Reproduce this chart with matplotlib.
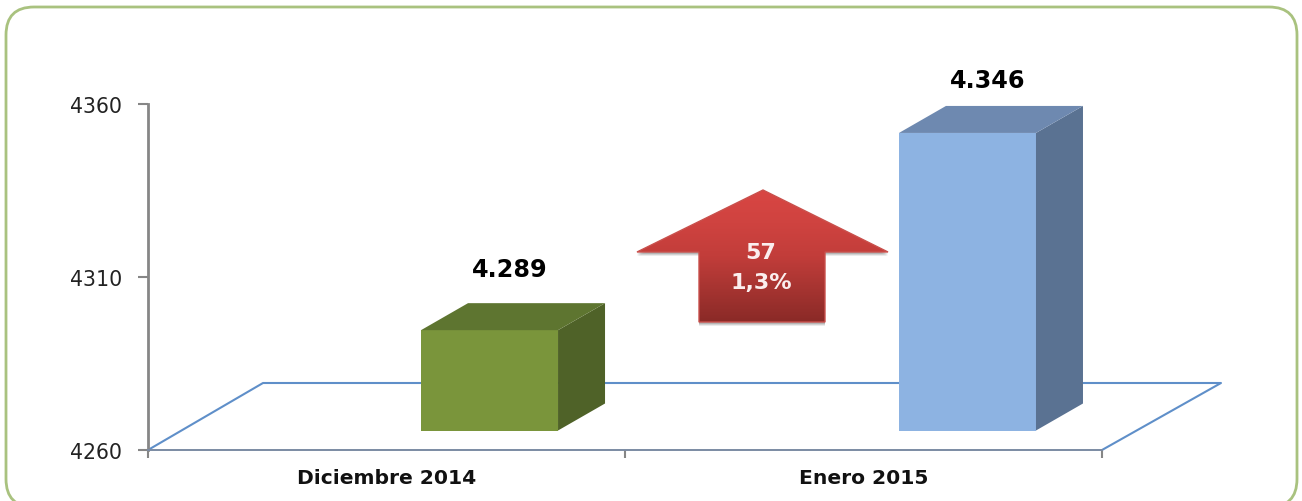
import numpy as np
import matplotlib
matplotlib.use("Agg")
import matplotlib.pyplot as plt
from matplotlib.patches import FancyBboxPatch, Polygon
from matplotlib.colors import LinearSegmentedColormap

categories = ["Diciembre 2014", "Enero 2015"]
values = [4289, 4346]
value_labels = ["4.289", "4.346"]
y_ticks = [4260, 4310, 4360]
change_labels = ["57", "1,3%"]

W, H = 1302, 502
fig = plt.figure(figsize=(W / 100, H / 100), dpi=100, facecolor="white")

# pixel overlay for the frame and the arrow
ov = fig.add_axes([0, 0, 1, 1], zorder=3)
ov.set_xlim(0, W); ov.set_ylim(H, 0); ov.axis("off"); ov.patch.set_alpha(0)
bg = fig.add_axes([0, 0, 1, 1], zorder=0)
bg.set_xlim(0, W); bg.set_ylim(H, 0); bg.axis("off")
bg.add_patch(FancyBboxPatch((34, 36), 1235, 444, boxstyle="round,pad=28,rounding_size=28",
                            fc="white", ec="#a9c27f", lw=2))

# chart axes
ax = fig.add_axes([148 / W, (H - 451) / H, 954 / W, 346 / H], zorder=2)
ax.patch.set_alpha(0)
ax.set_xlim(0, 2)
ax.set_ylim(4260, 4360)
px_x = 2 / 954
px_y = 100 / 346

for s in ("top", "right"):
    ax.spines[s].set_visible(False)
ax.spines["left"].set_color("#868686"); ax.spines["left"].set_linewidth(2)
ax.spines["bottom"].set_color("#7b8ba3"); ax.spines["bottom"].set_linewidth(1.4)
ax.set_yticks(y_ticks)
ax.set_yticklabels([str(t) for t in y_ticks], fontsize=14.8, color="#222222", family="DejaVu Sans")
ax.tick_params(axis="y", length=7.5, width=1.5, color="#868686", pad=11)
ax.set_xticks([0, 1, 2]); ax.set_xticklabels(["", "", ""])
ax.tick_params(axis="x", length=5.5, width=1.5, color="#868686")
ax.set_xticks([0.5, 1.5], minor=True)
ax.set_xticklabels(categories, minor=True, fontsize=14.6, fontweight="bold", color="#111111")
ax.tick_params(axis="x", which="minor", length=0, pad=13)

# floor
floor_x = [0, 115 * px_x, 2 + 119 * px_x, 2]
floor_y = [4260, 4260 + 67 * px_y, 4260 + 67 * px_y, 4260]
ax.plot(floor_x, floor_y, color="#5f8fc9", lw=1.5, clip_on=False, zorder=1)

# bars with depth
positions = [0.716, 1.718]
bar_w = 137 * px_x
lift = 19.5 * px_y
dx, dy = 47 * px_x, 27 * px_y
fronts = ["#7a953b", "#8db3e2"]
sides = ["#4f6228", "#5a7292"]
tops = ["#5e7530", "#6e89b0"]
for x, v, lab, f, s, t in zip(positions, values, value_labels, fronts, sides, tops):
    base = 4260 + lift
    top = base + (v - 4260)
    l, r = x - bar_w / 2, x + bar_w / 2
    ax.bar(x, v - 4260, bottom=base, width=bar_w, color=f, zorder=3, clip_on=False)
    ax.add_patch(Polygon([(r, base), (r + dx, base + dy), (r + dx, top + dy), (r, top)],
                         fc=s, ec="none", zorder=3, clip_on=False))
    ax.add_patch(Polygon([(l, top), (l + dx, top + dy), (r + dx, top + dy), (r, top)],
                         fc=t, ec="none", zorder=3, clip_on=False))
    ax.text(x + 20 * px_x, top + 61 * px_y - (0 if v < 4300 else 8 * px_y), lab, ha="center", va="center",
            fontsize=17.2, fontweight="bold", color="black", zorder=4, clip_on=False)

# change arrow
arrow = [(763, 191), (888, 253), (825, 253), (825, 323), (699, 323), (699, 253), (637, 253)]
for off, alpha in ((4, 0.10), (3, 0.15), (2, 0.2)):
    ov.add_patch(Polygon([(a, b + off) for a, b in arrow], fc="#444444", alpha=alpha, ec="none"))
cmap = LinearSegmentedColormap.from_list("arrow", ["#d94643", "#cf4340", "#c23d3a", "#a63431", "#8a2a27"])
im = ov.imshow(np.linspace(0, 1, 256).reshape(-1, 1), cmap=cmap, aspect="auto",
               extent=(637, 888, 323, 191), zorder=2)
clip = Polygon(arrow, transform=ov.transData, fc="none", ec="none")
ov.add_patch(clip)
im.set_clip_path(clip)
ov.add_patch(Polygon(arrow, fc="none", ec="#c9504c", lw=1, zorder=3))
ov.set_xlim(0, W); ov.set_ylim(H, 0)
ov.text(761, 253, change_labels[0], ha="center", va="center", fontsize=16, fontweight="bold", color="#fbeeee", zorder=4)
ov.text(761, 283, change_labels[1], ha="center", va="center", fontsize=16, fontweight="bold", color="#fbeeee", zorder=4)

fig.savefig("out.png", dpi=100)
